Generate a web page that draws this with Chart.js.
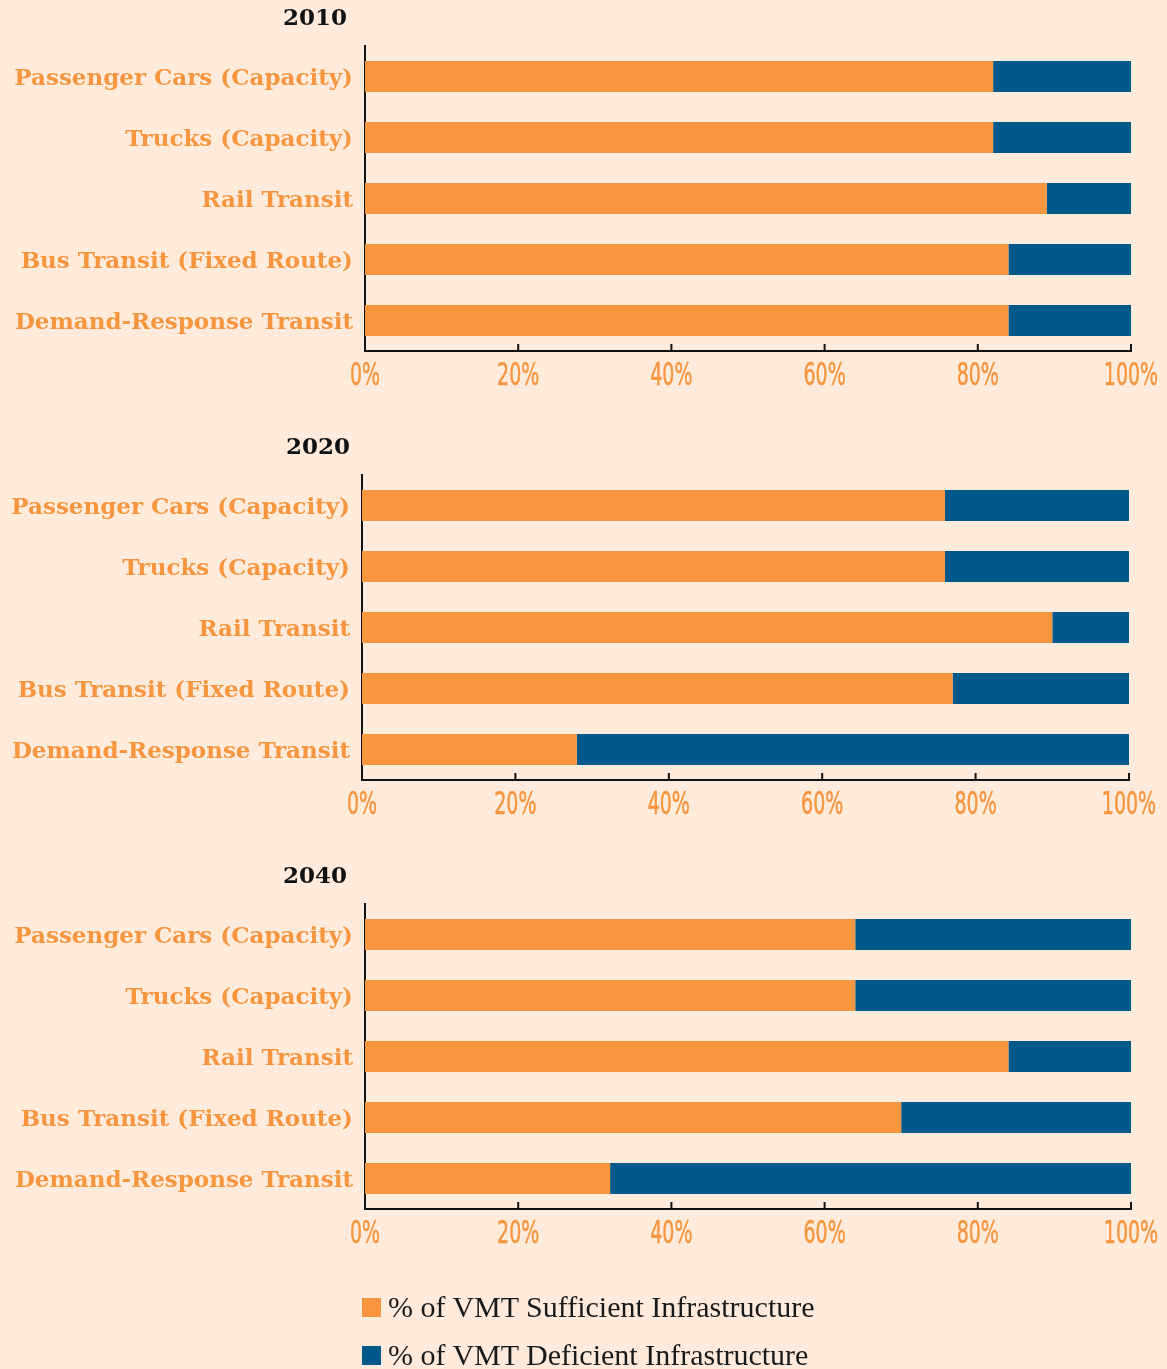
<!DOCTYPE html>
<html>
<head>
<meta charset="utf-8">
<script src="https://cdn.jsdelivr.net/npm/chart.js@4.4.0/dist/chart.umd.min.js"></script>
<style>
  body { margin: 0; background: #FEEBDB; width: 1167px; height: 1369px; position: relative; overflow: hidden; }
  .blk { position: absolute; left: 0; width: 1167px; height: 429px; }
  .yr { position: absolute; right: 820px; top: 3px; font: bold 23px "DejaVu Serif", serif; color: #111; }
  .legend { position: absolute; left: 362px; top: 1283px; font: 30px "Liberation Serif", serif; color: #1a1a1a; }
  .legend div { height: 48px; display: flex; align-items: center; }
  .legend span { display: inline-block; width: 19px; height: 19px; margin-right: 7px; }
</style>
</head>
<body>

<div class="blk" style="top:0px"><div class="yr">2010</div><canvas id="c0"></canvas></div>
<div class="blk" style="top:429px"><div class="yr" style="right:817px">2020</div><canvas id="c1"></canvas></div>
<div class="blk" style="top:858px"><div class="yr">2040</div><canvas id="c2"></canvas></div>

<div class="legend">
  <div><span style="background:#F7963F"></span>% of VMT Sufficient Infrastructure</div>
  <div><span style="background:#01588B"></span>% of VMT Deficient Infrastructure</div>
</div>

<script>
var categories = ['Passenger Cars (Capacity)', 'Trucks (Capacity)', 'Rail Transit', 'Bus Transit (Fixed Route)', 'Demand-Response Transit'];
var years = ['2010', '2020', '2040'];

var sufficient2010 = [82, 82, 89, 84, 84];
var deficient2010  = [18, 18, 11, 16, 16];
var sufficient2020 = [76, 76, 90, 77, 28];
var deficient2020  = [24, 24, 10, 23, 72];
var sufficient2040 = [64, 64, 84, 70, 32];
var deficient2040  = [36, 36, 16, 30, 68];

var tickValues = [0, 20, 40, 60, 80, 100];

var seriesNames = ['% of VMT Sufficient Infrastructure', '% of VMT Deficient Infrastructure'];

var ORANGE = '#F7963F';
var BLUE = '#01588B';

var sufficient = [sufficient2010, sufficient2020, sufficient2040];
var deficient = [deficient2010, deficient2020, deficient2040];
var axisLeft = [365, 362, 365];
var axisRight = [1131, 1129, 1131];

// small ticks pointing up from the x axis, plus narrow percent labels under it
var xAxisDecor = {
  id: 'xAxisDecor',
  afterDraw: function(chart) {
    var ctx = chart.ctx;
    var xs = chart.scales.x;
    var b = chart.chartArea.bottom;
    ctx.save();
    ctx.strokeStyle = '#111';
    ctx.lineWidth = 2;
    xs.ticks.forEach(function(t) {
      var px = xs.getPixelForValue(t.value);
      ctx.beginPath();
      ctx.moveTo(px, b);
      ctx.lineTo(px, b - 7);
      ctx.stroke();
    });
    ctx.fillStyle = ORANGE;
    ctx.strokeStyle = ORANGE;
    ctx.lineWidth = 0.5;
    ctx.font = '32px "DejaVu Sans Condensed", "DejaVu Sans", sans-serif';
    ctx.textAlign = 'center';
    ctx.textBaseline = 'alphabetic';
    xs.ticks.forEach(function(t) {
      var px = xs.getPixelForValue(t.value);
      ctx.save();
      ctx.translate(px, b + 34);
      ctx.scale(0.66, 1);
      ctx.fillText(t.value + '%', 0, 0);
      ctx.strokeText(t.value + '%', 0, 0);
      ctx.restore();
    });
    ctx.restore();
  }
};

for (var i = 0; i < 3; i++) {
  (function(i) {
    var canvas = document.getElementById('c' + i);
    canvas.width = 1167;
    canvas.height = 429;
    new Chart(canvas, {
      type: 'bar',
      data: {
        labels: categories,
        datasets: [
          { label: seriesNames[0], data: sufficient[i], backgroundColor: ORANGE },
          { label: seriesNames[1], data: deficient[i], backgroundColor: BLUE }
        ]
      },
      options: {
        indexAxis: 'y',
        responsive: false,
        animation: false,
        events: [],
        categoryPercentage: 1,
        barPercentage: 0.51,
        layout: { padding: { top: 46, left: 0, right: 1167 - axisRight[i], bottom: 78 } },
        plugins: { legend: { display: false }, tooltip: { enabled: false } },
        scales: {
          x: {
            stacked: true,
            min: 0,
            max: 100,
            afterBuildTicks: function(s) { s.ticks = tickValues.map(function(v) { return { value: v }; }); },
            grid: { display: false, drawTicks: false },
            border: { display: true, color: '#111', width: 2 },
            ticks: { display: false }
          },
          y: {
            stacked: true,
            afterFit: function(s) { s.width = axisLeft[i]; },
            grid: { display: false, drawTicks: false },
            border: { display: true, color: '#111', width: 2 },
            ticks: {
              color: ORANGE,
              padding: 12,
              labelOffset: 3,
              font: { family: '"DejaVu Serif", serif', size: 23, weight: 'bold' }
            }
          }
        }
      },
      plugins: [xAxisDecor]
    });
  })(i);
}
</script>
</body>
</html>
